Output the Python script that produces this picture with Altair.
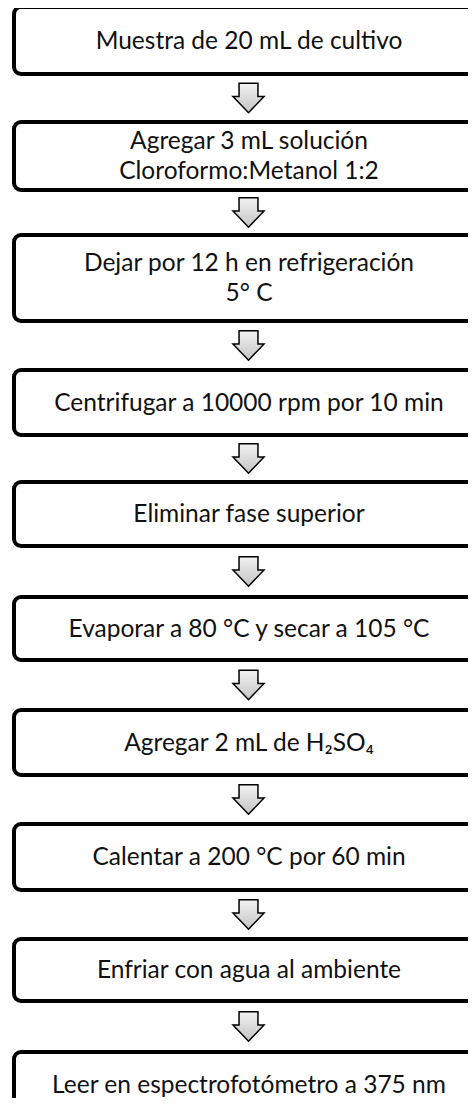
import altair as alt
import pandas as pd

# ---- content -------------------------------------------------------------
steps = [
    ["Muestra de 20 mL de cultivo"],
    ["Agregar 3 mL solución", "Cloroformo:Metanol 1:2"],
    ["Dejar por 12 h en refrigeración", "5° C"],
    ["Centrifugar a 10000 rpm por 10 min"],
    ["Eliminar fase superior"],
    ["Evaporar a 80 °C y secar a 105 °C"],
    ["Agregar 2 mL de H₂SO₄"],
    ["Calentar a 200 °C por 60 min"],
    ["Enfriar con agua al ambiente"],
    ["Leer en espectrofotómetro a 375 nm"],
]

# ---- layout (page pixel coordinates) --------------------------------------
W, H = 460, 1090
X0, Y0 = 8, 8
box_tops = [5, 120, 233, 368, 480, 595, 708, 822, 937, 1050]
box_heights = [71, 72, 90, 69, 68, 67, 69, 70, 66, 70]
LEFT, RIGHT = 12, 486
STROKE = 4
LINE_H = 30
CAP_HALF = 8

rows, lines = [], []
for lines_txt, top, h in zip(steps, box_tops, box_heights):
    rows.append(dict(
        x=LEFT + STROKE / 2, x2=RIGHT - STROKE / 2,
        y=top + STROKE / 2, y2=top + h - STROKE / 2,
        bottom=top + h, top=top,
    ))
    cy = top + h / 2
    n = len(lines_txt)
    for i, t in enumerate(lines_txt):
        lines.append(dict(cx=249, by=cy + CAP_HALF + (i - (n - 1) / 2) * LINE_H,
                          text=t))
boxes = pd.DataFrame(rows)
labels = pd.DataFrame(lines)

arrows = pd.DataFrame([
    dict(cx=248.5, cy=(rows[i]["bottom"] + rows[i + 1]["top"]) / 2)
    for i in range(len(rows) - 1)
])

xs = alt.Scale(domain=[X0, X0 + W])
ys = alt.Scale(domain=[Y0, Y0 + H], reverse=True)

rects = alt.Chart(boxes).mark_rect(
    fill="white", stroke="black", strokeWidth=STROKE, cornerRadius=7
).encode(
    x=alt.X("x:Q", scale=xs, axis=None),
    x2="x2:Q",
    y=alt.Y("y:Q", scale=ys, axis=None),
    y2="y2:Q",
)

texts = alt.Chart(labels).mark_text(
    font="Lato", fontSize=24.5,
    align="center", baseline="alphabetic", color="#111111",
).encode(
    x=alt.X("cx:Q", scale=xs, axis=None),
    y=alt.Y("by:Q", scale=ys, axis=None),
    text="text:N",
)

arrow_path = ("M-0.61,-0.95 L0.61,-0.95 L0.61,-0.09 L1,-0.09 "
              "L0,0.95 L-1,-0.09 L-0.61,-0.09 Z")
arrow_fill = alt.Gradient(
    gradient="linear",
    stops=[alt.GradientStop(color="#f2f2f2", offset=0),
           alt.GradientStop(color="#c4c4c4", offset=1)],
    x1=0, x2=0, y1=0, y2=1,
)
arrow_marks = alt.Chart(arrows).mark_point(
    shape=arrow_path, filled=True, fill=arrow_fill, stroke="black",
    strokeWidth=1.5, size=961, opacity=1,
).encode(
    x=alt.X("cx:Q", scale=xs, axis=None),
    y=alt.Y("cy:Q", scale=ys, axis=None),
)

chart = alt.layer(rects, texts, arrow_marks).properties(
    width=W, height=H, padding=0,
    autosize=alt.AutoSizeParams(type="none"),
).configure_view(strokeWidth=0)

chart.save("out.html", embed_options={"renderer": "svg", "actions": False})
